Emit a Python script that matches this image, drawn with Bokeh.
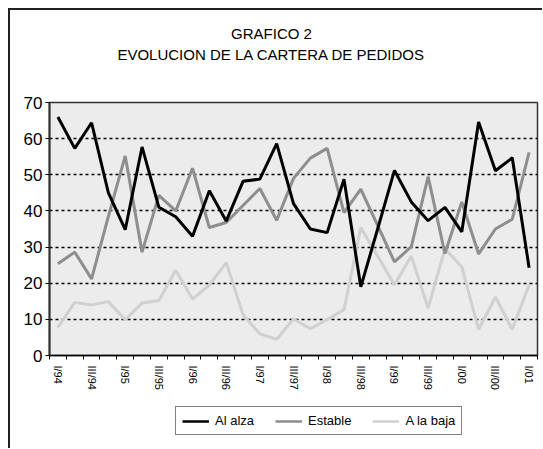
from bokeh.plotting import figure
from bokeh.models import Range1d, FixedTicker, Legend, LegendItem, ColumnDataSource, Label
from bokeh.layouts import column
from bokeh.embed import file_html
from bokeh.resources import INLINE

quarters = ["I/94", "II/94", "III/94", "IV/94",
            "I/95", "II/95", "III/95", "IV/95",
            "I/96", "II/96", "III/96", "IV/96",
            "I/97", "II/97", "III/97", "IV/97",
            "I/98", "II/98", "III/98", "IV/98",
            "I/99", "II/99", "III/99", "IV/99",
            "I/00", "II/00", "III/00", "IV/00",
            "I/01"]

al_alza = [66, 57.3, 64.4, 45, 34.8, 57.7, 41, 38.4, 33, 45.6, 37.2, 48.2, 48.8,
           58.6, 42, 35, 34, 48.8, 19, 35, 51.2, 42.5, 37.3, 41, 34.2, 64.6, 51.1, 54.7, 24.3]
estable = [25.4, 28.6, 21.2, 38.5, 55.2, 28.6, 44.3, 40, 51.8, 35.4, 36.8, 41.5, 46.2,
           37.4, 49, 54.6, 57.3, 39.5, 46, 36, 25.9, 30.1, 49.5, 28.2, 42.5, 28.1, 35, 37.7, 56.2]
a_la_baja = [7.8, 14.7, 14, 14.9, 9.9, 14.5, 15.2, 23.6, 15.6, 19.5, 25.7, 11.3, 6,
             4.5, 10.1, 7.4, 9.9, 12.7, 35.4, 27.5, 19.5, 27.5, 13.1, 29.5, 24.5, 7.2, 16.2, 7.2, 19.5]

series_names = ["Al alza", "Estable", "A la baja"]
series_cols = ["alza", "estable", "baja"]
series_colors = ["black", "#8e8e8e", "#d0d0d0"]
y_ticks = [0, 10, 20, 30, 40, 50, 60, 70]
title1 = "GRAFICO 2"
title2 = "EVOLUCION DE LA CARTERA DE PEDIDOS"

FONT = "Liberation Sans"
W = 532

n = len(quarters)
xs = [i + 0.5 for i in range(n)]
src = ColumnDataSource(dict(x=xs, alza=al_alza, estable=estable, baja=a_la_baja))


def blank_fig(h):
    f = figure(width=W, height=h, output_backend="svg", toolbar_location=None,
               x_range=Range1d(0, 1), y_range=Range1d(-2, -1),
               x_axis_location=None, y_axis_location=None,
               min_border=0, min_border_left=0, min_border_right=0,
               min_border_top=0, min_border_bottom=0)
    f.grid.visible = False
    f.outline_line_color = None
    f.background_fill_color = "white"
    f.border_fill_color = "white"
    return f


# ---- title block ----
pt = blank_fig(70)
pt.add_layout(Label(x=222, y=47, x_units="screen", y_units="screen", text=title1,
                    text_align="center", text_baseline="alphabetic",
                    text_font=FONT, text_font_size="15px", text_color="black"))
pt.add_layout(Label(x=222, y=26, x_units="screen", y_units="screen", text=title2,
                    text_align="center", text_baseline="alphabetic",
                    text_font=FONT, text_font_size="15px", text_color="black"))

# ---- main chart ----
p = figure(width=W, height=312, output_backend="svg", toolbar_location=None,
           x_range=Range1d(0, n), y_range=Range1d(0, 70),
           min_border_left=39, min_border_right=5, min_border_top=22, min_border_bottom=35)
p.background_fill_color = "#ececec"
p.border_fill_color = "white"
p.outline_line_color = "#333333"
p.outline_line_width = 1.5

p.yaxis.ticker = FixedTicker(ticks=y_ticks)
p.yaxis.axis_line_color = "#333333"
p.yaxis.axis_line_width = 2
p.yaxis.major_tick_out = 4
p.yaxis.major_tick_in = 0
p.yaxis.minor_tick_line_color = None
p.yaxis.major_label_standoff = 3
p.yaxis.major_label_text_font = FONT
p.yaxis.major_label_text_font_size = "17px"
p.yaxis.major_label_text_color = "black"

label_pos = [xs[i] for i in range(0, n, 2)]
p.xaxis.ticker = FixedTicker(ticks=label_pos, minor_ticks=list(range(0, n + 1)))
p.xaxis.major_label_overrides = {xs[i]: quarters[i] for i in range(0, n, 2)}
p.xaxis.major_label_orientation = "vertical"
p.xaxis.major_tick_out = 0
p.xaxis.major_tick_in = 0
p.xaxis.minor_tick_out = 4
p.xaxis.minor_tick_in = 0
p.xaxis.minor_tick_line_color = "black"
p.xaxis.axis_line_color = "black"
p.xaxis.axis_line_width = 1.5
p.xaxis.major_label_standoff = 6
p.xaxis.major_label_text_font = FONT
p.xaxis.major_label_text_font_size = "11px"
p.xaxis.major_label_text_color = "black"

p.xgrid.grid_line_color = None
p.ygrid.ticker = FixedTicker(ticks=[10, 20, 30, 40, 50, 60])
p.ygrid.grid_line_color = "black"
p.ygrid.grid_line_dash = "3 3"
p.ygrid.grid_line_width = 1.5

for col, color in list(zip(series_cols, series_colors))[::-1]:
    p.line("x", col, source=src, line_color=color, line_width=3)

# ---- legend block (its lines lie outside its empty view; only the key shows) ----
pl = blank_fig(56)
items = []
for name, col, color in zip(series_names, series_cols, series_colors):
    r = pl.line("x", col, source=src, line_color=color, line_width=2.5)
    items.append(LegendItem(label=name, renderers=[r]))
legend = Legend(items=items, orientation="horizontal", location=(126, 13), margin=0,
                padding=6, spacing=21, glyph_width=27, glyph_height=12,
                label_standoff=6, label_text_font=FONT, label_text_font_size="13px",
                label_text_color="black",
                border_line_color="black", border_line_width=1.5,
                background_fill_color="white", background_fill_alpha=1)
pl.add_layout(legend, "center")

lay = column(pt, p, pl, spacing=0)
lay.styles = {"margin-left": "8px", "margin-top": "8px",
              "border-left": "2px solid #222", "border-top": "2px solid #222"}

open("out.html", "w").write(file_html(lay, INLINE))
